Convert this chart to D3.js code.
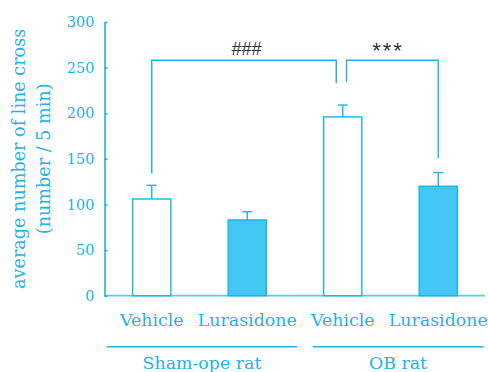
<!DOCTYPE html>
<html>
<head>
<meta charset="utf-8">
<script src="https://cdn.jsdelivr.net/npm/d3@7"></script>
<style>
  html, body { margin: 0; padding: 0; background: #fff; }
  svg { display: block; }
</style>
</head>
<body>
<svg id="chart" width="488" height="372"></svg>
<script>
// ---- data ----
const categories = ["Vehicle", "Lurasidone", "Vehicle", "Lurasidone"];
const groups = ["Sham-ope rat", "OB rat"];
const groupOf = [0, 0, 1, 1];
const means = [106, 83, 196, 120];
const sems = [15, 9, 13, 15];
const filled = [false, true, false, true];
const yTicks = [0, 50, 100, 150, 200, 250, 300];
const sigLabels = ["###", "***"];

// ---- style ----
const BLUE = "#1ab3ea";
const FILL = "#43c8f5";
const TXT = "#22b3eb";
const SERIF = "'DejaVu Serif', serif";

const svg = d3.select("#chart");
const x = d3.scaleBand().domain(d3.range(categories.length)).range([104, 486]).padding(0);
const y = d3.scaleLinear().domain([0, 300]).range([295.7, 22]);
const bw = x.bandwidth() * 0.4;
const cx = i => x(i) + x.bandwidth() / 2;

// y axis
const yAxis = d3.axisLeft(y).tickValues(yTicks).tickSizeInner(-3).tickSizeOuter(0).tickPadding(10);
const gy = svg.append("g").attr("transform", "translate(104.5,0)").call(yAxis);
gy.select(".domain").attr("stroke", BLUE).attr("stroke-width", 1.6);
gy.selectAll(".tick line").attr("stroke", BLUE).attr("stroke-width", 1.6);
gy.selectAll(".tick text").attr("fill", TXT).style("font-family", SERIF).style("font-size", "14.5px");

// x baseline
svg.append("line").attr("x1", 104).attr("x2", 485).attr("y1", y(0)).attr("y2", y(0))
  .attr("stroke", BLUE).attr("stroke-width", 1.8).attr("opacity", 0.7);

// bars
svg.append("g").selectAll("rect").data(means).join("rect")
  .attr("x", (d, i) => cx(i) - bw / 2)
  .attr("y", d => y(d))
  .attr("width", bw)
  .attr("height", d => y(0) - y(d))
  .attr("fill", (d, i) => filled[i] ? FILL : "#fff")
  .attr("stroke", BLUE).attr("stroke-width", 1.4);

// error bars
const eg = svg.append("g").attr("stroke", BLUE).attr("stroke-width", 1.4);
means.forEach((m, i) => {
  eg.append("line").attr("x1", cx(i)).attr("x2", cx(i)).attr("y1", y(m)).attr("y2", y(m + sems[i]));
  eg.append("line").attr("x1", cx(i) - 5).attr("x2", cx(i) + 5).attr("y1", y(m + sems[i])).attr("y2", y(m + sems[i]));
});

// significance brackets
const brTop = 258;
const bg = svg.append("g").attr("fill", "none").attr("stroke", BLUE).attr("stroke-width", 1.4);
const lbL = cx(0), lbR = cx(2) - 6.5;
bg.append("path").attr("d", d3.line()([[lbL, y(134)], [lbL, y(brTop)], [lbR, y(brTop)], [lbR, y(233)]]));
const rbL = cx(2) + 3.8, rbR = cx(3);
bg.append("path").attr("d", d3.line()([[rbL, y(234.5)], [rbL, y(brTop)], [rbR, y(brTop)], [rbR, y(151)]]));

svg.append("text").attr("x", 246.5).attr("y", 54.5).attr("text-anchor", "middle")
  .attr("fill", "#333").style("font-family", "'Liberation Sans', Arial, sans-serif").style("font-size", "18px")
  .text(sigLabels[0]);
svg.append("text").attr("x", 388).attr("y", 58).attr("text-anchor", "middle")
  .attr("fill", "#333").style("font-family", "'Liberation Sans', Arial, sans-serif").style("font-size", "22px")
  .style("letter-spacing", "2px")
  .text(sigLabels[1]);

// category labels
svg.append("g").selectAll("text").data(categories).join("text")
  .attr("x", (d, i) => cx(i)).attr("y", 326).attr("text-anchor", "middle")
  .attr("fill", TXT).style("font-family", SERIF).style("font-size", "17.4px")
  .text(d => d);

// group lines and labels
const groupSpans = [[106.7, 297.3], [312.7, 483.3]];
groups.forEach((g, gi) => {
  const [a, b] = groupSpans[gi];
  svg.append("line").attr("x1", a).attr("x2", b).attr("y1", 346.7).attr("y2", 346.7)
    .attr("stroke", BLUE).attr("stroke-width", 1.4);
  svg.append("text").attr("x", (a + b) / 2).attr("y", 369).attr("text-anchor", "middle")
    .attr("fill", TXT).style("font-family", SERIF).style("font-size", "17.4px").text(g);
});

// y label
const yl = svg.append("text").attr("transform", `translate(0,${(y(0) + y(300)) / 2}) rotate(-90)`)
  .attr("text-anchor", "middle").attr("fill", TXT).style("font-family", SERIF).style("font-size", "17.6px");
yl.append("tspan").attr("x", 0).attr("y", 25).text("average number of line cross");
yl.append("tspan").attr("x", 0).attr("y", 50).text("(number / 5 min)");
</script>
</body>
</html>
